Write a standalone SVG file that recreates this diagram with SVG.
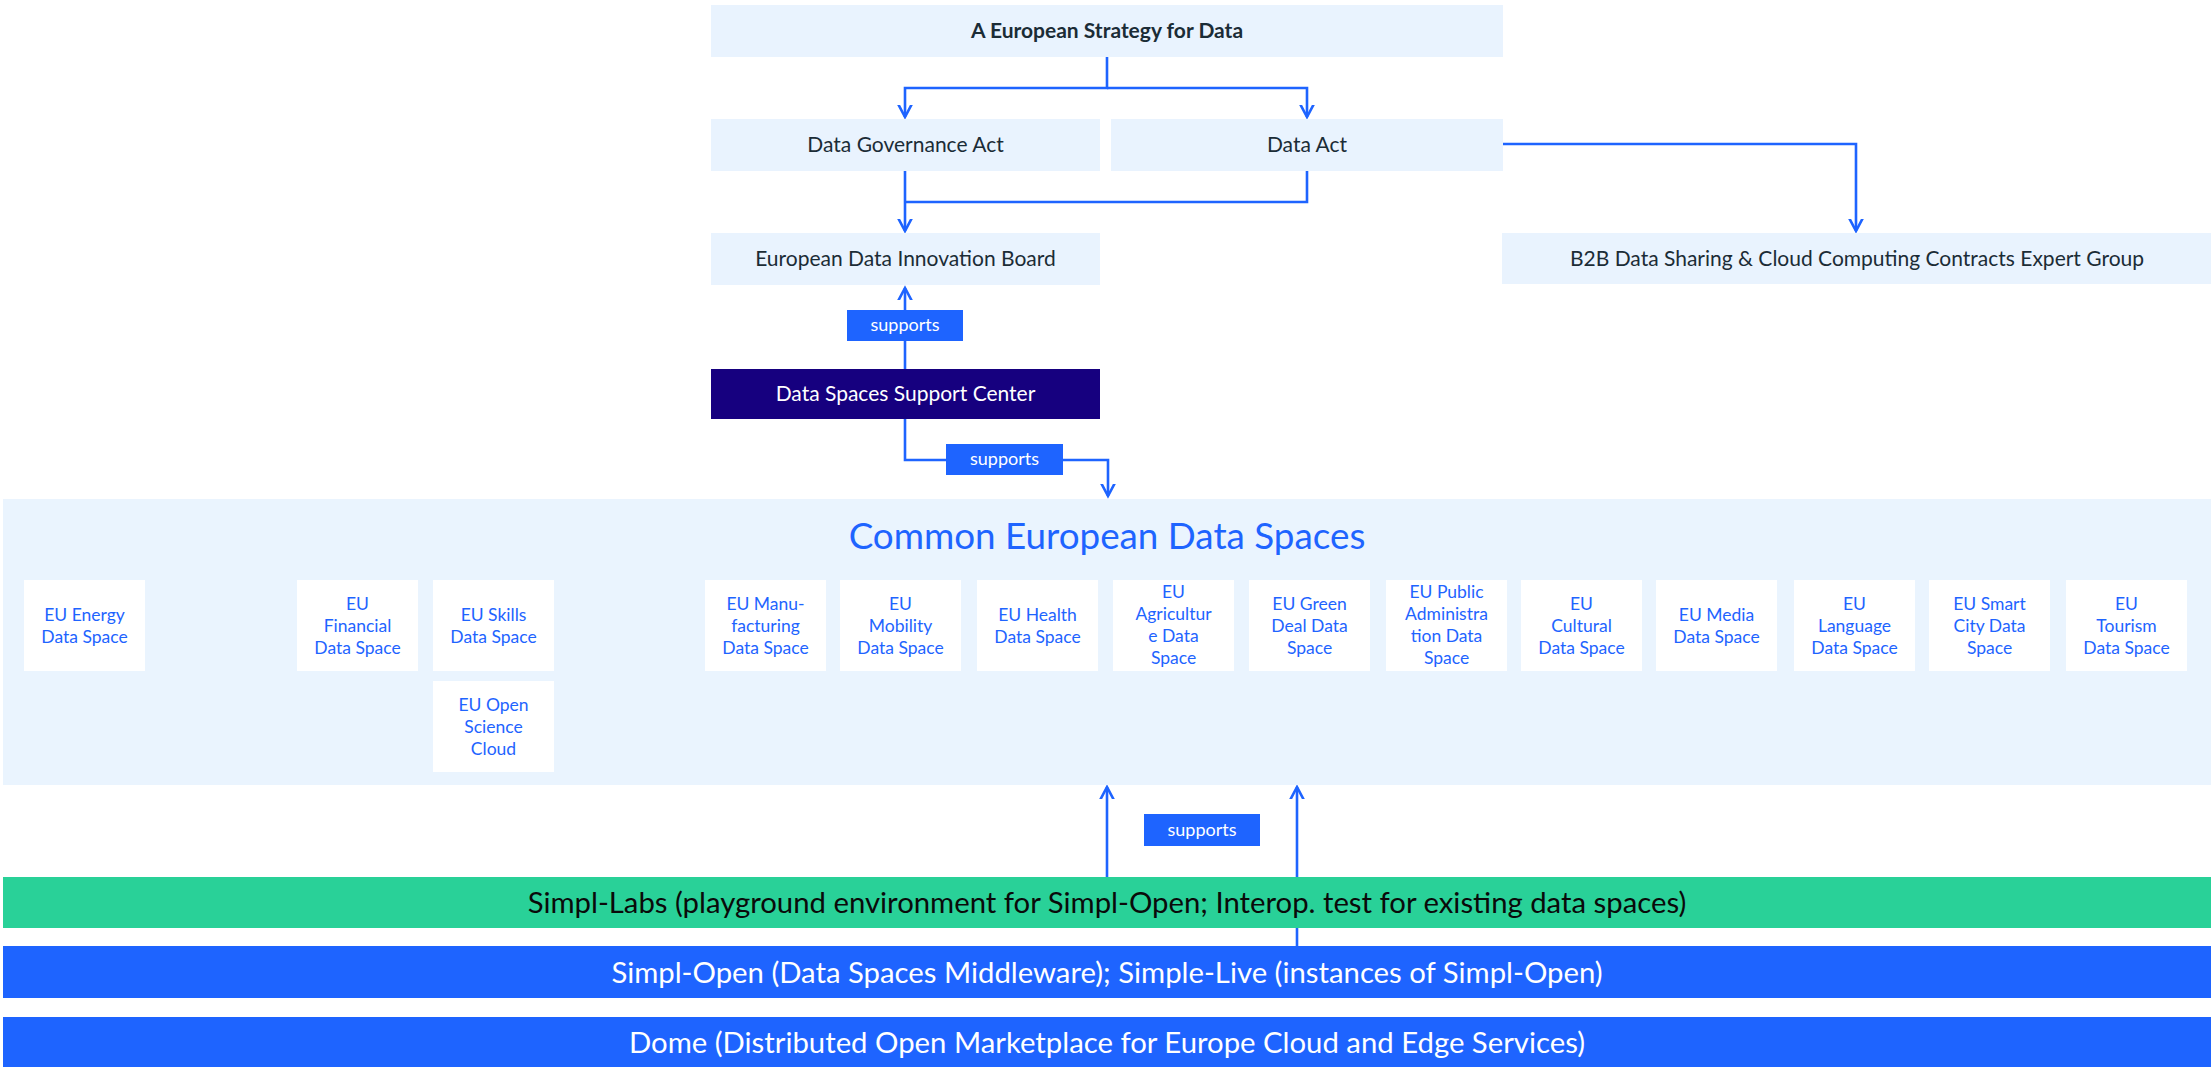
<svg xmlns="http://www.w3.org/2000/svg" width="2211" height="1067" viewBox="0 0 2211 1067">
<defs>
<style>
.lb{fill:#e9f3fe}
.t{font-family:Lato,"Open Sans","Liberation Sans",sans-serif;text-anchor:middle}
.dk{fill:#1b2c36;font-size:21px}
.sb{fill:#ffffff}
.st{fill:#1e64ff;font-size:17.5px}
.ln{fill:none;stroke:#1e64ff;stroke-width:2.6}
.lab{fill:#1e64ff}
.labt{fill:#ffffff;font-size:18px}
.bar{font-size:29.3px}
</style>
<marker id="ah" markerWidth="24" markerHeight="24" viewBox="-12 -12 24 24" refX="0" refY="0" orient="auto" markerUnits="userSpaceOnUse">
<path d="M-17,-9 L0,0 L-17,9" fill="none" stroke="#1e64ff" stroke-width="2.6"/>
</marker>
</defs>
<rect width="2211" height="1067" fill="#ffffff"/>

<g id="connectors">
<path class="ln" d="M1107,57 V88 H905 V117" marker-end="url(#ah)"/>
<path class="ln" d="M1107,88 H1307 V117" marker-end="url(#ah)"/>
<path class="ln" d="M905,171 V231" marker-end="url(#ah)"/>
<path class="ln" d="M1307,171 V202 H905"/>
<path class="ln" d="M1503,144 H1856 V231" marker-end="url(#ah)"/>
<path class="ln" d="M905,369 V288" marker-end="url(#ah)"/>
<path class="ln" d="M905,419 V460 H1108 V496" marker-end="url(#ah)"/>
<path class="ln" d="M1107,877 V787" marker-end="url(#ah)"/>
<path class="ln" d="M1297,946 V787" marker-end="url(#ah)"/>
<rect class="lab" x="847" y="310" width="116" height="31"/>
<text class="t labt" x="905" y="331">supports</text>
<rect class="lab" x="946" y="444" width="117" height="31"/>
<text class="t labt" x="1004.5" y="465">supports</text>
<rect class="lab" x="1144" y="814" width="116" height="32"/>
<text class="t labt" x="1202" y="836">supports</text>
</g>

<g id="strategy"><rect class="lb" x="711" y="5" width="792" height="52"/><text class="t dk" x="1107" y="38" font-weight="bold">A European Strategy for Data</text></g>
<g id="dga"><rect class="lb" x="711" y="119" width="389" height="52"/><text class="t dk" x="905.5" y="152">Data Governance Act</text></g>
<g id="dataact"><rect class="lb" x="1111" y="119" width="392" height="52"/><text class="t dk" x="1307" y="152">Data Act</text></g>
<g id="edib"><rect class="lb" x="711" y="233" width="389" height="52"/><text class="t dk" x="905.5" y="266">European Data Innovation Board</text></g>
<g id="b2b"><rect class="lb" x="1502" y="233" width="709" height="51"/><text class="t dk" x="1857" y="266">B2B Data Sharing &amp; Cloud Computing Contracts Expert Group</text></g>
<g id="dssc"><rect x="711" y="369" width="389" height="50" fill="#16007f"/><text class="t" x="905.5" y="401" fill="#ffffff" font-size="21px">Data Spaces Support Center</text></g>

<g id="ceds">
<rect x="3" y="499" width="2208" height="286" fill="#eaf4fe"/>
<text class="t" x="1107" y="549" fill="#1e64ff" font-size="36.8px">Common European Data Spaces</text>
</g>

<g id="ds-energy"><rect class="sb" x="24" y="580" width="121" height="91"/><text class="t st" x="84.5" y="621">EU Energy</text><text class="t st" x="84.5" y="643">Data Space</text></g>
<g id="ds-financial"><rect class="sb" x="297" y="580" width="121" height="91"/><text class="t st" x="357.5" y="610">EU</text><text class="t st" x="357.5" y="632">Financial</text><text class="t st" x="357.5" y="654">Data Space</text></g>
<g id="ds-skills"><rect class="sb" x="433" y="580" width="121" height="91"/><text class="t st" x="493.5" y="621">EU Skills</text><text class="t st" x="493.5" y="643">Data Space</text></g>
<g id="ds-openscience"><rect class="sb" x="433" y="681" width="121" height="91"/><text class="t st" x="493.5" y="711">EU Open</text><text class="t st" x="493.5" y="733">Science</text><text class="t st" x="493.5" y="755">Cloud</text></g>
<g id="ds-manufacturing"><rect class="sb" x="705" y="580" width="121" height="91"/><text class="t st" x="765.5" y="610">EU Manu-</text><text class="t st" x="765.5" y="632">facturing</text><text class="t st" x="765.5" y="654">Data Space</text></g>
<g id="ds-mobility"><rect class="sb" x="840" y="580" width="121" height="91"/><text class="t st" x="900.5" y="610">EU</text><text class="t st" x="900.5" y="632">Mobility</text><text class="t st" x="900.5" y="654">Data Space</text></g>
<g id="ds-health"><rect class="sb" x="977" y="580" width="121" height="91"/><text class="t st" x="1037.5" y="621">EU Health</text><text class="t st" x="1037.5" y="643">Data Space</text></g>
<g id="ds-agriculture"><rect class="sb" x="1113" y="580" width="121" height="91"/><text class="t st" x="1173.5" y="598">EU</text><text class="t st" x="1173.5" y="620">Agricultur</text><text class="t st" x="1173.5" y="642">e Data</text><text class="t st" x="1173.5" y="664">Space</text></g>
<g id="ds-greendeal"><rect class="sb" x="1249" y="580" width="121" height="91"/><text class="t st" x="1309.5" y="610">EU Green</text><text class="t st" x="1309.5" y="632">Deal Data</text><text class="t st" x="1309.5" y="654">Space</text></g>
<g id="ds-publicadmin"><rect class="sb" x="1386" y="580" width="121" height="91"/><text class="t st" x="1446.5" y="598">EU Public</text><text class="t st" x="1446.5" y="620">Administra</text><text class="t st" x="1446.5" y="642">tion Data</text><text class="t st" x="1446.5" y="664">Space</text></g>
<g id="ds-cultural"><rect class="sb" x="1521" y="580" width="121" height="91"/><text class="t st" x="1581.5" y="610">EU</text><text class="t st" x="1581.5" y="632">Cultural</text><text class="t st" x="1581.5" y="654">Data Space</text></g>
<g id="ds-media"><rect class="sb" x="1656" y="580" width="121" height="91"/><text class="t st" x="1716.5" y="621">EU Media</text><text class="t st" x="1716.5" y="643">Data Space</text></g>
<g id="ds-language"><rect class="sb" x="1794" y="580" width="121" height="91"/><text class="t st" x="1854.5" y="610">EU</text><text class="t st" x="1854.5" y="632">Language</text><text class="t st" x="1854.5" y="654">Data Space</text></g>
<g id="ds-smartcity"><rect class="sb" x="1929" y="580" width="121" height="91"/><text class="t st" x="1989.5" y="610">EU Smart</text><text class="t st" x="1989.5" y="632">City Data</text><text class="t st" x="1989.5" y="654">Space</text></g>
<g id="ds-tourism"><rect class="sb" x="2066" y="580" width="121" height="91"/><text class="t st" x="2126.5" y="610">EU</text><text class="t st" x="2126.5" y="632">Tourism</text><text class="t st" x="2126.5" y="654">Data Space</text></g>

<g id="simpl-labs"><rect x="3" y="877" width="2208" height="51" fill="#29d198"/><text class="t bar" x="1107" y="913" fill="#0a0a0a">Simpl-Labs (playground environment for Simpl-Open; Interop. test for existing data spaces)</text></g>
<g id="simpl-open"><rect x="3" y="946" width="2208" height="52" fill="#1e64ff"/><text class="t bar" x="1107" y="983" fill="#ffffff">Simpl-Open (Data Spaces Middleware); Simple-Live (instances of Simpl-Open)</text></g>
<g id="dome"><rect x="3" y="1017" width="2208" height="50" fill="#1e64ff"/><text class="t bar" x="1107" y="1053" fill="#ffffff">Dome (Distributed Open Marketplace for Europe Cloud and Edge Services)</text></g>
</svg>
